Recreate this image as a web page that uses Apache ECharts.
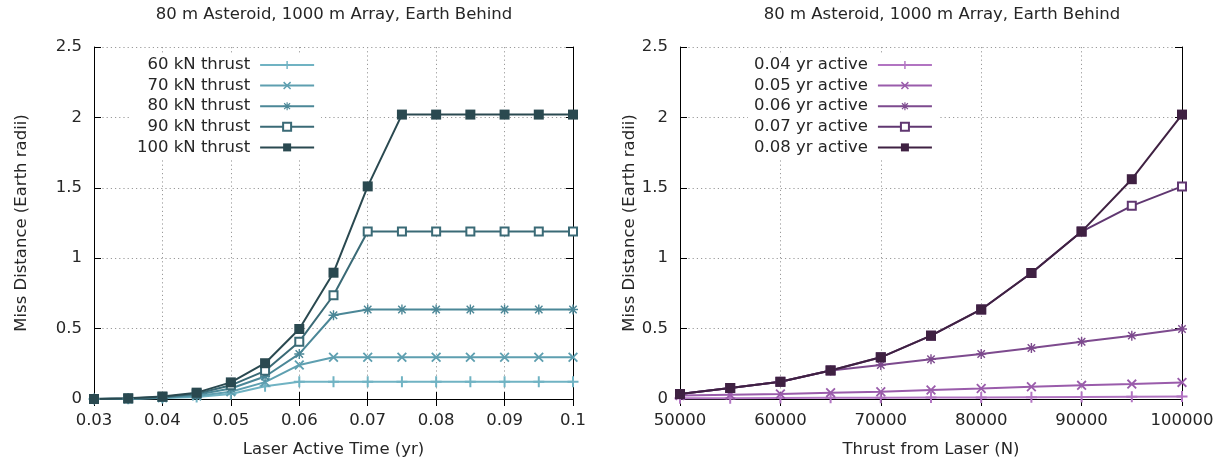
<!DOCTYPE html>
<html>
<head>
<meta charset="utf-8">
<style>
html,body{margin:0;padding:0;background:#fff;}
#chart{width:1222px;height:463px;}
</style>
<script src="https://cdn.jsdelivr.net/npm/echarts@6/dist/echarts.min.js"></script>
</head>
<body>
<div id="chart"></div>
<script>
// ---- data ----
var titleText = '80 m Asteroid, 1000 m Array, Earth Behind';
var activeTimes = [0.03, 0.035, 0.04, 0.045, 0.05, 0.055, 0.06, 0.065, 0.07, 0.075, 0.08, 0.085, 0.09, 0.095, 0.1];
var thrustNames = ['60 kN thrust', '70 kN thrust', '80 kN thrust', '90 kN thrust', '100 kN thrust'];
var thrust60  = [0, 0.001, 0.007, 0.015, 0.035, 0.09, 0.122, 0.122, 0.122, 0.122, 0.122, 0.122, 0.122, 0.122, 0.122];
var thrust70  = [0, 0.002, 0.009, 0.022, 0.052, 0.12, 0.242, 0.296, 0.296, 0.296, 0.296, 0.296, 0.296, 0.296, 0.296];
var thrust80  = [0, 0.003, 0.011, 0.03, 0.075, 0.16, 0.32, 0.595, 0.636, 0.636, 0.636, 0.636, 0.636, 0.636, 0.636];
var thrust90  = [0, 0.004, 0.014, 0.037, 0.097, 0.2, 0.407, 0.737, 1.189, 1.189, 1.189, 1.189, 1.189, 1.189, 1.189];
var thrust100 = [0, 0.005, 0.018, 0.045, 0.118, 0.254, 0.497, 0.897, 1.51, 2.02, 2.02, 2.02, 2.02, 2.02, 2.02];

var thrusts = [50000, 55000, 60000, 65000, 70000, 75000, 80000, 85000, 90000, 95000, 100000];
var activeNames = ['0.04 yr active', '0.05 yr active', '0.06 yr active', '0.07 yr active', '0.08 yr active'];
var active04 = [0.005, 0.006, 0.007, 0.008, 0.009, 0.01, 0.011, 0.013, 0.014, 0.016, 0.018];
var active05 = [0.025, 0.03, 0.035, 0.045, 0.052, 0.064, 0.075, 0.087, 0.097, 0.106, 0.118];
var active06 = [0.035, 0.078, 0.122, 0.203, 0.242, 0.282, 0.32, 0.362, 0.407, 0.45, 0.497];
var active07 = [0.035, 0.078, 0.122, 0.203, 0.296, 0.45, 0.636, 0.895, 1.189, 1.372, 1.51];
var active08 = [0.035, 0.078, 0.122, 0.203, 0.296, 0.45, 0.636, 0.895, 1.189, 1.561, 2.02];

var yTicks = ['0', '0.5', '1', '1.5', '2', '2.5'];

// ---- styles ----
var FONT = 'DejaVu Sans';
var FS = 16.5;
var TXT = '#262626';
var leftColors  = ['#70b3c3', '#5e9fb0', '#4b8797', '#3a6a76', '#2a4950'];
var rightColors = ['#b274c2', '#9a5cab', '#7d4a8e', '#603771', '#3f2142'];

var SYM_PLUS = 'path://M4.1,0H5.9V4.1H10V5.9H5.9V10H4.1V5.9H0V4.1H4.1Z';
var SYM_CROSS = 'path://M0,1.3L1.3,0L10,8.7L8.7,10Z M8.7,0L10,1.3L1.3,10L0,8.7Z';
var SYM_STAR = 'path://M4.3,0H5.7V4.3H10V5.7H5.7V10H4.3V5.7H0V4.3H4.3Z M0.8,1.8L1.8,0.8L9.2,8.2L8.2,9.2Z M8.2,0.8L9.2,1.8L1.8,9.2L0.8,8.2Z';
var symbols = [SYM_PLUS, SYM_CROSS, SYM_STAR, 'emptyRect', 'rect'];
var symSizes = [11, 10, 10, 8, 10];

var leftData = [thrust60, thrust70, thrust80, thrust90, thrust100];
var rightData = [active04, active05, active06, active07, active08];

function pairs(xs, ys) { return xs.map(function (x, i) { return [x, ys[i]]; }); }

var series = [];
function addSeries(name, xs, ys, k, color, axisIdx) {
  series.push({
    type: 'line', name: name, xAxisIndex: axisIdx, yAxisIndex: axisIdx,
    data: pairs(xs, ys),
    symbol: symbols[k], symbolSize: symSizes[k], showAllSymbol: true,
    clip: false,
    color: color,
    lineStyle: { width: 2, color: color },
    itemStyle: { color: color, borderColor: color, borderWidth: symbols[k] === 'emptyRect' ? 1.8 : 0 },
    emphasis: { disabled: true }, animation: false
  });
}
for (var i = 0; i < 5; i++) addSeries(thrustNames[i], activeTimes, leftData[i], i, leftColors[i], 0);
for (var j = 0; j < 5; j++) addSeries(activeNames[j], thrusts, rightData[j], j, rightColors[j], 2);

var grids = [
  { left: 94, top: 47, width: 479, height: 354 },
  { left: 680, top: 47, width: 502, height: 354 }
];

var axisLine = { show: true, lineStyle: { color: '#000', width: 1 } };
var tick = { show: true, inside: true, length: 7, lineStyle: { color: '#000', width: 1 } };
var split = { show: true, lineStyle: { color: '#9a9a9a', width: 1, type: [1.2, 3] } };
var lblStyle = { color: TXT, fontFamily: FONT, fontSize: FS };
var nameStyle = { color: TXT, fontFamily: FONT, fontSize: FS };

function fmtTime(v) { return String(+v.toFixed(3)); }
function fmtThrust(v) { return String(Math.round(v)); }
function fmtY(v) { var s = String(+v.toFixed(2)); return yTicks.indexOf(s) >= 0 ? s : ''; }

var xAxes = [
  { gridIndex: 0, type: 'value', min: 0.03, max: 0.1, interval: 0.01, position: 'bottom',
    axisLine: axisLine, axisTick: tick, splitLine: split,
    axisLabel: Object.assign({ margin: 13, formatter: fmtTime }, lblStyle),
    name: 'Laser Active Time (yr)', nameLocation: 'middle', nameGap: 42, nameTextStyle: nameStyle },
  { gridIndex: 0, type: 'value', min: 0.03, max: 0.1, interval: 0.01, position: 'top',
    axisLine: axisLine, axisTick: tick, splitLine: { show: false }, axisLabel: { show: false } },
  { gridIndex: 1, type: 'value', min: 50000, max: 100000, interval: 10000, position: 'bottom',
    axisLine: axisLine, axisTick: tick, splitLine: split,
    axisLabel: Object.assign({ margin: 13, formatter: fmtThrust }, lblStyle),
    name: 'Thrust from Laser (N)', nameLocation: 'middle', nameGap: 42, nameTextStyle: nameStyle },
  { gridIndex: 1, type: 'value', min: 50000, max: 100000, interval: 10000, position: 'top',
    axisLine: axisLine, axisTick: tick, splitLine: { show: false }, axisLabel: { show: false } }
];

function yMain(g, gap) {
  return { gridIndex: g, type: 'value', min: 0, max: 2.5, interval: 0.5, position: 'left',
    axisLine: axisLine, axisTick: tick, splitLine: split,
    axisLabel: Object.assign({ margin: 12, formatter: fmtY }, lblStyle),
    name: 'Miss Distance (Earth radii)', nameLocation: 'middle', nameGap: gap, nameTextStyle: nameStyle };
}
function yMirror(g) {
  return { gridIndex: g, type: 'value', min: 0, max: 2.5, interval: 0.5, position: 'right',
    axisLine: axisLine, axisTick: tick, splitLine: { show: false }, axisLabel: { show: false } };
}
var yAxes = [yMain(0, 64), yMirror(0), yMain(1, 42), yMirror(1)];

function legend(names, left) {
  return {
    data: names, orient: 'vertical', align: 'right', left: left, top: 53,
    itemWidth: 54, itemHeight: 10, itemGap: 2.6,
    backgroundColor: '#fff', padding: [3, 6, 3, 6],
    textStyle: { color: TXT, fontFamily: FONT, fontSize: FS, lineHeight: 18, padding: [0, 5, 0, 0] },
    selectedMode: false, inactiveColor: '#ccc'
  };
}

var titleFont = FS + 'px "' + FONT + '"';
var option = {
  animation: false,
  backgroundColor: '#fff',
  grid: grids,
  xAxis: xAxes,
  yAxis: yAxes,
  legend: [legend(thrustNames, 131), legend(activeNames, 748)],
  graphic: [
    { type: 'text', x: 334, y: 15, z: 10,
      style: { text: titleText, fill: TXT, font: titleFont, textAlign: 'center', textVerticalAlign: 'middle' } },
    { type: 'text', x: 942, y: 15, z: 10,
      style: { text: titleText, fill: TXT, font: titleFont, textAlign: 'center', textVerticalAlign: 'middle' } }
  ],
  series: series
};

var chart = echarts.init(document.getElementById('chart'), null, { renderer: 'canvas' });
chart.setOption(option);
</script>
</body>
</html>
